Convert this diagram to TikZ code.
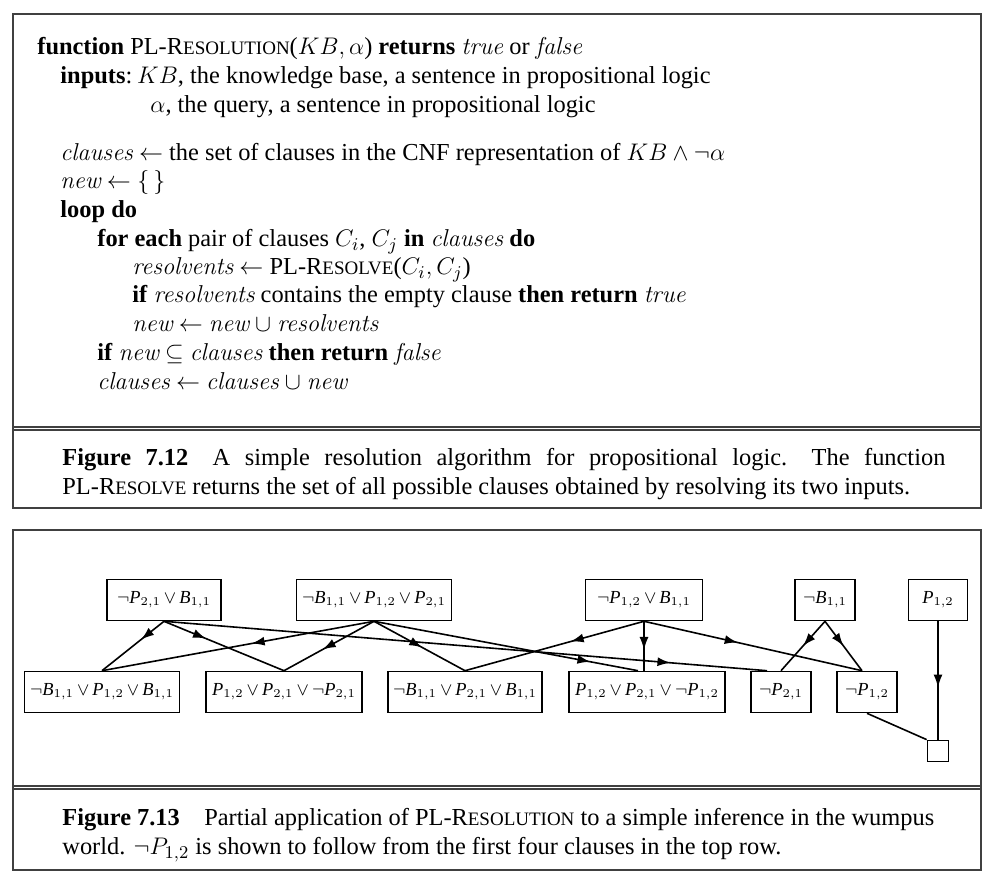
\documentclass[tikz,border=0pt]{standalone}
\usepackage{fontspec}
\setmainfont{Liberation Serif}
\usetikzlibrary{arrows.meta,decorations.markings}

\newcommand{\lit}[3]{\textit{#1}$_{#2{,}#3}$}
\newcommand{\orsep}{$\,\vee\,$}
\newcommand{\scword}[2]{#1{\fontsize{9.5}{11}\selectfont #2}}
\newcommand{\algvar}[1]{{\fontfamily{lmr}\selectfont\itshape #1}}

\tikzset{
  frame/.style={draw=black!75, line width=0.7pt},
  algline/.style={anchor=base west, inner sep=0pt},
  capt/.style={anchor=north west, inner sep=0pt},
  clause/.style={rectangle, draw, line width=0.8pt, minimum height=20.5pt, inner xsep=2pt, font=\fontsize{9.2}{11}\selectfont},
  resarr/.style={line width=0.8pt, postaction={decorate},
    decoration={markings, mark=at position #1 with {\arrow{Latex[length=6.5pt,width=4.5pt]}}}}
}

\begin{document}
\begin{tikzpicture}[x=0.5pt, y=-0.5pt, font=\fontsize{12.2}{14.5}\selectfont]
 \useasboundingbox (0,0) rectangle (992,882);
 % frames
 \draw[frame] (13,14) rectangle (981,508);
 \draw[frame] (13,427) -- (981,427) (13,430) -- (981,430);
 \draw[frame] (13,530) rectangle (981,870);
 \draw[frame] (13,786) -- (981,786) (13,789) -- (981,789);
 % algorithm
 \node[algline] (l1)  at (37,55)   {\textbf{function} PL-\scword{R}{ESOLUTION}($KB,\alpha$) \textbf{returns} \algvar{true} or \algvar{false}};
 \node[algline] (l2)  at (60,84)   {\textbf{inputs}:\hspace{0.2em}$KB$, the knowledge base, a sentence in propositional logic};
 \node[algline] (l3)  at (150,113) {$\alpha$, the query, a sentence in propositional logic};
 \node[algline] (l4)  at (60,161)  {\algvar{clauses} $\leftarrow$ the set of clauses in the CNF representation of $KB \wedge \neg\alpha$};
 \node[algline] (l5)  at (60,189)  {\algvar{new} $\leftarrow \{\,\}$};
 \node[algline] (l6)  at (60,218)  {\textbf{loop do}};
 \node[algline] (l7)  at (97,247)  {\textbf{for each} pair of clauses $C_i$, $C_j$ \textbf{in} \algvar{clauses} \textbf{do}};
 \node[algline] (l8)  at (132,275) {\algvar{resolvents} $\leftarrow$ PL-\scword{R}{ESOLVE}($C_i,C_j$)};
 \node[algline] (l9)  at (132,303) {\textbf{if} \algvar{resolvents} contains the empty clause \textbf{then return} \algvar{true}};
 \node[algline] (l10) at (132,332) {\algvar{new} $\leftarrow$ \algvar{new} $\cup$ \algvar{resolvents}};
 \node[algline] (l11) at (97,361)  {\textbf{if} \algvar{new} $\subseteq$ \algvar{clauses} \textbf{then return} \algvar{false}};
 \node[algline] (l12) at (97,390)  {\algvar{clauses} $\leftarrow$ \algvar{clauses} $\cup$ \algvar{new}};
 \node[capt, text width=441.5pt, align=justify] (cap1) at (62,448) {\textbf{Figure 7.12}\quad A simple resolution algorithm for propositional logic.\quad The function\linebreak PL-\scword{R}{ESOLVE} returns the set of all possible clauses obtained by resolving its two inputs.};
 % resolution graph
 \node[clause, minimum width=57pt]   (n1) at (164,600) {$\neg$\lit{P}{2}{1}\orsep\lit{B}{1}{1}};
 \node[clause, minimum width=77.5pt] (n2) at (374,600) {$\neg$\lit{B}{1}{1}\orsep\lit{P}{1}{2}\orsep\lit{P}{2}{1}};
 \node[clause, minimum width=58.5pt] (n3) at (644,600) {$\neg$\lit{P}{1}{2}\orsep\lit{B}{1}{1}};
 \node[clause, minimum width=30pt]   (n4) at (825,600) {$\neg$\lit{B}{1}{1}};
 \node[clause, minimum width=29.5pt] (n5) at (938,600) {\lit{P}{1}{2}};
 \node[clause, minimum width=77.5pt] (m1) at (102,692) {$\neg$\lit{B}{1}{1}\orsep\lit{P}{1}{2}\orsep\lit{B}{1}{1}};
 \node[clause, minimum width=78pt]   (m2) at (284,692) {\lit{P}{1}{2}\orsep\lit{P}{2}{1}\orsep$\neg$\lit{P}{2}{1}};
 \node[clause, minimum width=77pt]   (m3) at (465,692) {$\neg$\lit{B}{1}{1}\orsep\lit{P}{2}{1}\orsep\lit{B}{1}{1}};
 \node[clause, minimum width=78pt]   (m4) at (647,692) {\lit{P}{1}{2}\orsep\lit{P}{2}{1}\orsep$\neg$\lit{P}{1}{2}};
 \node[clause, minimum width=30pt]   (m5) at (781,692) {$\neg$\lit{P}{2}{1}};
 \node[clause, minimum width=30pt]   (m6) at (867,692) {$\neg$\lit{P}{1}{2}};
 \node[rectangle, draw, line width=0.9pt, minimum size=10.5pt, inner sep=0pt] (empty) at (938,751) {};
  \draw[resarr=0.37] (n1.south) -- (m1.north);
  \draw[resarr=0.35] (n1.south) -- (m2.north);
  \draw[resarr=0.84] (n1.south) -- ([xshift=-7pt]m5.north);
  \draw[resarr=0.45] (n2.south) -- (m1.north);
  \draw[resarr=0.57] (n2.south) -- (m2.north);
  \draw[resarr=0.53] (n2.south) -- (m3.north);
  \draw[resarr=0.82] (n2.south) -- ([xshift=-4.5pt]m4.north);
  \draw[resarr=0.41] (n3.south) -- (m3.north);
  \draw[resarr=0.58] (n3.south) -- (n3.south |- m4.north);
  \draw[resarr=0.43] (n3.south) -- ([xshift=-2.5pt]m6.north);
  \draw[resarr=0.5]  (n4.south) -- (m5.north);
  \draw[resarr=0.5]  (n4.south) -- ([xshift=-2.5pt]m6.north);
  \draw[resarr=0.56] (n5.south) -- (empty.north);
  \draw[line width=0.8pt] (m6.south) -- (empty.north west);
 \node[capt, align=left] (cap2) at (62,808) {\textbf{Figure 7.13}\quad Partial application of PL-\scword{R}{ESOLUTION} to a simple inference in the wumpus\\ world. $\neg P_{1,2}$ is shown to follow from the first four clauses in the top row.};
\end{tikzpicture}
\end{document}
